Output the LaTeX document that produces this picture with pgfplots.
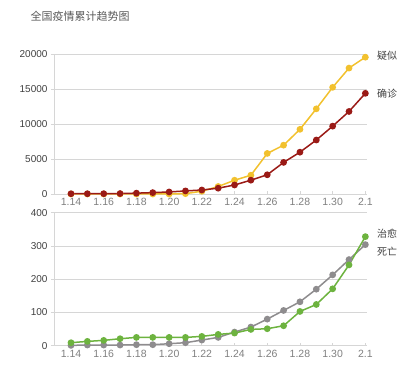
\documentclass[border=0pt]{standalone}
\usepackage{pgfplots}
\pgfplotsset{compat=1.18}
\usepackage{fontspec}
\setmainfont{Liberation Sans}
\newfontfamily\cjk{Noto Sans CJK SC}
\definecolor{cyel}{HTML}{F2C12E}
\definecolor{cred}{HTML}{9A1A16}
\definecolor{cgrn}{HTML}{6DB33F}
\definecolor{cgry}{HTML}{8E8C8E}
\definecolor{cgrid}{HTML}{D6D6D6}
\pgfplotsset{
  mybase/.style={
    scale only axis, width=313bp,
    xmin=-1.04, xmax=18.1,
    axis x line=bottom, axis y line=left,
    axis line style={cgrid, line width=0.8bp, -},
    xtick={0,2,...,18},
    xticklabels={1.14,1.16,1.18,1.20,1.22,1.24,1.26,1.28,1.30,2.1},
    ymajorgrids, grid style={cgrid, line width=0.7bp},
    tick style={cgrid, line width=0.7bp},
    major tick length=3bp,
    xtick align=inside, ytick align=outside,
    scaled y ticks=false,
    /pgf/number format/assume math mode=true,
    /pgf/number format/1000 sep={},
    xticklabel style={font=\fontsize{10.5bp}{11bp}\selectfont, text=black!50, yshift=-1bp},
    yticklabel style={font=\fontsize{10bp}{11bp}\selectfont, text=black!75},
    clip=false,
    every axis plot/.append style={line width=1.5bp, mark=*, mark size=2.6bp},
  }
}
\begin{document}
\begin{tikzpicture}[x=1bp,y=1bp]
\path[use as bounding box] (0,0) rectangle (408,390);
\node[anchor=west, text=black!65, font=\cjk\fontsize{11bp}{12bp}\selectfont] at (27,374) {全国疫情累计趋势图};
% top chart
\begin{axis}[mybase, at={(54bp,196bp)}, anchor=south west, height=140bp,
  ymin=0, ymax=20000, ytick={0,5000,10000,15000,20000}]
\addplot[color=cyel, mark options={fill=cyel, draw=cyel}] coordinates {
(0,0) (1,0) (2,0) (3,0) (4,0) (5,0) (6,0) (7,54) (8,393) (9,1072) (10,1965) (11,2684) (12,5794) (13,6973) (14,9239) (15,12167) (16,15238) (17,17988) (18,19544)};
\addplot[color=cred, mark options={fill=cred, draw=cred}] coordinates {
(0,41) (1,41) (2,45) (3,62) (4,121) (5,198) (6,291) (7,440) (8,571) (9,830) (10,1287) (11,1975) (12,2744) (13,4515) (14,5974) (15,7711) (16,9692) (17,11791) (18,14380)};
\node[anchor=west, font=\cjk\fontsize{10bp}{11bp}\selectfont, text=black!75] at (axis cs:18.5,19700) {疑似};
\node[anchor=west, font=\cjk\fontsize{10bp}{11bp}\selectfont, text=black!75] at (axis cs:18.5,14400) {确诊};
\end{axis}
% bottom chart
\begin{axis}[mybase, at={(54bp,44.3bp)}, anchor=south west, height=133bp,
  ymin=0, ymax=400, ytick={0,100,200,300,400}]
\addplot[color=cgry, mark options={fill=cgry, draw=cgry}] coordinates {
(0,1) (1,2) (2,2) (3,2) (4,3) (5,3) (6,6) (7,9) (8,17) (9,25) (10,41) (11,56) (12,80) (13,106) (14,132) (15,170) (16,213) (17,259) (18,304)};
\addplot[color=cgrn, mark options={fill=cgrn, draw=cgrn}] coordinates {
(0,9) (1,13) (2,16) (3,21) (4,25) (5,25) (6,25) (7,25) (8,28) (9,34) (10,38) (11,49) (12,51) (13,60) (14,103) (15,124) (16,171) (17,243) (18,328)};
\node[anchor=west, font=\cjk\fontsize{10bp}{11bp}\selectfont, text=black!75] at (axis cs:18.5,338) {治愈};
\node[anchor=west, font=\cjk\fontsize{10bp}{11bp}\selectfont, text=black!75] at (axis cs:18.5,283) {死亡};
\end{axis}
\end{tikzpicture}
\end{document}
